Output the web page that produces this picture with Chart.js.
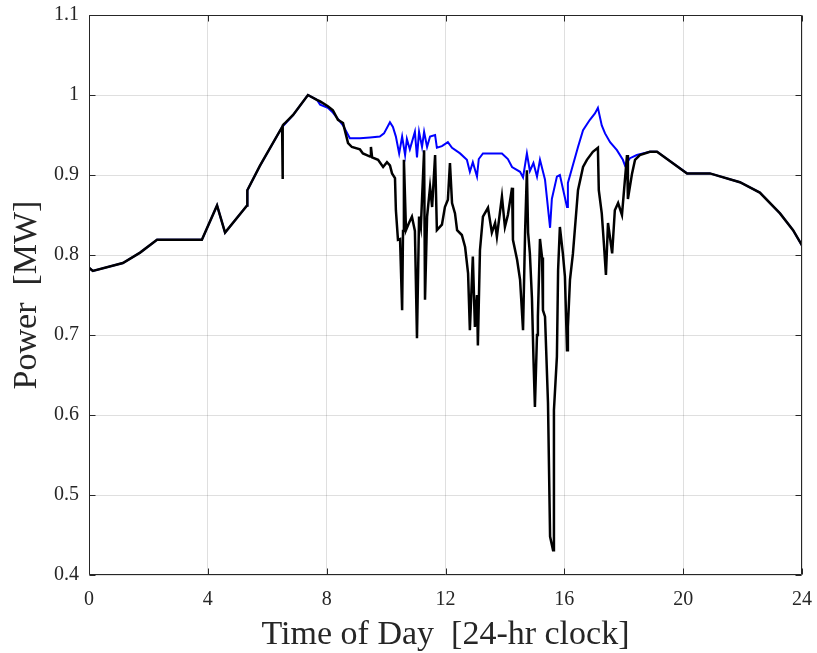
<!DOCTYPE html>
<html><head><meta charset="utf-8">
<script src="https://cdn.jsdelivr.net/npm/chart.js@4/dist/chart.umd.min.js"></script>
<style>html,body{margin:0;padding:0;background:#fff;}#wrap{width:817px;height:653px;}</style>
</head><body><div id="wrap"><canvas id="c" width="817" height="653"></canvas></div>
<script>
const xTickValues = [0, 4, 8, 12, 16, 20, 24];
const yTickValues = [0.4, 0.5, 0.6, 0.7, 0.8, 0.9, 1.0, 1.1];

// Black trace: time of day [h] and power [MW]
const blackTime = [0.00,0.13,1.14,1.72,2.29,3.80,4.31,4.58,5.32,5.33,5.76,6.50,6.51,6.53,6.87,7.37,7.67,7.78,8.04,8.21,8.38,8.55,8.72,8.85,9.12,9.22,9.46,9.49,9.53,9.73,9.90,10.03,10.13,10.20,10.30,10.33,10.40,10.47,10.54,10.57,10.60,10.67,10.77,10.87,10.97,11.04,11.11,11.17,11.28,11.31,11.38,11.48,11.55,11.65,11.71,11.88,11.98,12.08,12.15,12.22,12.32,12.39,12.55,12.66,12.76,12.82,12.92,12.99,13.06,13.09,13.16,13.26,13.43,13.56,13.67,13.73,13.90,14.00,14.10,14.24,14.27,14.41,14.51,14.61,14.68,14.74,14.78,14.84,14.91,14.96,15.01,15.08,15.11,15.18,15.25,15.28,15.35,15.45,15.52,15.62,15.65,15.75,15.79,15.85,15.95,16.02,16.09,16.12,16.19,16.29,16.46,16.63,16.76,16.96,17.13,17.16,17.26,17.33,17.40,17.47,17.61,17.70,17.81,17.94,18.01,18.11,18.14,18.28,18.38,18.54,18.88,19.12,20.13,20.90,21.91,22.58,23.26,23.70,24.00];
const blackPower = [0.784,0.780,0.790,0.803,0.819,0.819,0.862,0.828,0.862,0.881,0.912,0.960,0.895,0.962,0.975,1.000,0.994,0.992,0.986,0.981,0.969,0.965,0.940,0.935,0.932,0.927,0.923,0.935,0.922,0.919,0.910,0.916,0.912,0.902,0.896,0.856,0.819,0.820,0.731,0.830,0.919,0.831,0.840,0.848,0.830,0.696,0.848,0.835,0.931,0.744,0.848,0.885,0.860,0.925,0.831,0.838,0.860,0.869,0.915,0.865,0.852,0.831,0.825,0.810,0.777,0.706,0.798,0.710,0.750,0.687,0.806,0.848,0.859,0.828,0.840,0.823,0.873,0.835,0.850,0.884,0.819,0.794,0.769,0.706,0.830,0.906,0.828,0.802,0.746,0.672,0.610,0.700,0.723,0.820,0.797,0.731,0.723,0.615,0.448,0.431,0.606,0.673,0.781,0.835,0.802,0.773,0.681,0.710,0.769,0.802,0.881,0.910,0.919,0.929,0.934,0.881,0.852,0.815,0.775,0.840,0.802,0.856,0.865,0.850,0.881,0.925,0.870,0.902,0.919,0.925,0.929,0.929,0.902,0.902,0.891,0.878,0.852,0.831,0.812];

// Blue trace: time of day [h] and power [MW]
const blueTime = [0.00,0.13,1.14,1.72,2.29,3.80,4.31,4.58,5.32,5.33,5.76,6.50,6.87,7.37,7.67,7.78,8.04,8.21,8.55,8.78,9.12,9.46,9.79,9.93,10.13,10.23,10.33,10.44,10.54,10.64,10.70,10.80,10.97,11.04,11.11,11.21,11.28,11.38,11.48,11.65,11.71,11.88,12.08,12.22,12.49,12.72,12.82,12.92,13.06,13.12,13.26,13.60,13.90,14.10,14.24,14.51,14.61,14.74,14.84,14.96,15.08,15.18,15.35,15.52,15.58,15.75,15.85,16.09,16.12,16.46,16.63,16.86,17.03,17.13,17.26,17.37,17.54,17.77,17.97,18.04,18.21,18.44,18.88,19.12,20.13,20.90,21.91,22.58,23.26,23.70,24.00];
const bluePower = [0.784,0.780,0.790,0.803,0.819,0.819,0.862,0.828,0.862,0.881,0.912,0.960,0.975,1.000,0.994,0.988,0.984,0.978,0.962,0.946,0.946,0.947,0.948,0.952,0.966,0.960,0.948,0.927,0.948,0.925,0.945,0.932,0.954,0.922,0.954,0.935,0.954,0.935,0.948,0.950,0.934,0.936,0.941,0.934,0.927,0.919,0.904,0.916,0.898,0.920,0.927,0.927,0.927,0.920,0.910,0.904,0.897,0.927,0.905,0.915,0.898,0.919,0.894,0.834,0.870,0.898,0.900,0.860,0.890,0.935,0.956,0.969,0.977,0.984,0.962,0.952,0.941,0.931,0.919,0.912,0.921,0.925,0.929,0.929,0.902,0.902,0.891,0.878,0.852,0.831,0.812];

const toPoints = (ts, ps) => ts.map((t, i) => ({x: t, y: ps[i]}));
const serif = "'Liberation Serif', 'Times New Roman', serif";
const gridColor = 'rgba(38,38,38,0.15)';
const axisColor = '#262626';

const boxPlugin = {
  id: 'box',
  afterDraw(chart) {
    const {ctx, chartArea: a, scales: {x, y}} = chart;
    ctx.save();
    ctx.strokeStyle = axisColor;
    ctx.lineWidth = 1;
    const L = Math.round(a.left) + 0.5, R = Math.round(a.right) - 0.5;
    const T = Math.round(a.top) + 0.5, B = Math.round(a.bottom) - 0.5;
    ctx.beginPath();
    ctx.rect(L, T, R - L, B - T);
    const tl = 6;
    xTickValues.forEach(v => {
      const px = Math.round(x.getPixelForValue(v)) + 0.5;
      ctx.moveTo(px, B); ctx.lineTo(px, B - tl);
      ctx.moveTo(px, T); ctx.lineTo(px, T + tl);
    });
    yTickValues.forEach(v => {
      const py = Math.round(y.getPixelForValue(v)) + 0.5;
      ctx.moveTo(L, py); ctx.lineTo(L + tl, py);
      ctx.moveTo(R, py); ctx.lineTo(R - tl, py);
    });
    ctx.stroke();
    ctx.restore();
  }
};

const zeroPad = s => { s.paddingLeft = 0; s.paddingRight = 0; s.paddingTop = 0; s.paddingBottom = 0; };

new Chart(document.getElementById('c'), {
  type: 'line',
  data: {
    datasets: [
      {label: 'Blue', data: toPoints(blueTime, bluePower), borderColor: '#0000ff', borderWidth: 2, pointRadius: 0, tension: 0, order: 2},
      {label: 'Black', data: toPoints(blackTime, blackPower), borderColor: '#000000', borderWidth: 2.5, pointRadius: 0, tension: 0, order: 1}
    ]
  },
  options: {
    responsive: false,
    animation: false,
    devicePixelRatio: 1,
    layout: {padding: {top: 15, right: 15, bottom: 0, left: 0}},
    plugins: {legend: {display: false}, tooltip: {enabled: false}},
    scales: {
      x: {
        type: 'linear', min: 0, max: 24,
        afterBuildTicks: s => { s.ticks = xTickValues.map(v => ({value: v})); },
        afterFit: s => { s.height = 78; zeroPad(s); },
        grid: {color: gridColor, drawTicks: false},
        border: {display: false},
        ticks: {color: axisColor, font: {family: serif, size: 20}, padding: 13, maxRotation: 0, callback: v => String(v)},
        title: {display: true, text: 'Time of Day  [24-hr clock]', color: axisColor, font: {family: serif, size: 34, lineHeight: 1.0}, padding: {top: 0, bottom: 1}}
      },
      y: {
        type: 'linear', min: 0.4, max: 1.1,
        afterBuildTicks: s => { s.ticks = yTickValues.map(v => ({value: v})); },
        afterFit: s => { s.width = 89; zeroPad(s); },
        grid: {color: gridColor, drawTicks: false},
        border: {display: false},
        ticks: {color: axisColor, font: {family: serif, size: 20}, padding: 10, callback: v => String(+(+v).toFixed(1))},
        title: {display: true, text: 'Power  [MW]', color: axisColor, font: {family: serif, size: 34, lineHeight: 1.0}, padding: {top: 10, bottom: 0}}
      }
    }
  },
  plugins: [boxPlugin]
});
</script>
</body></html>
